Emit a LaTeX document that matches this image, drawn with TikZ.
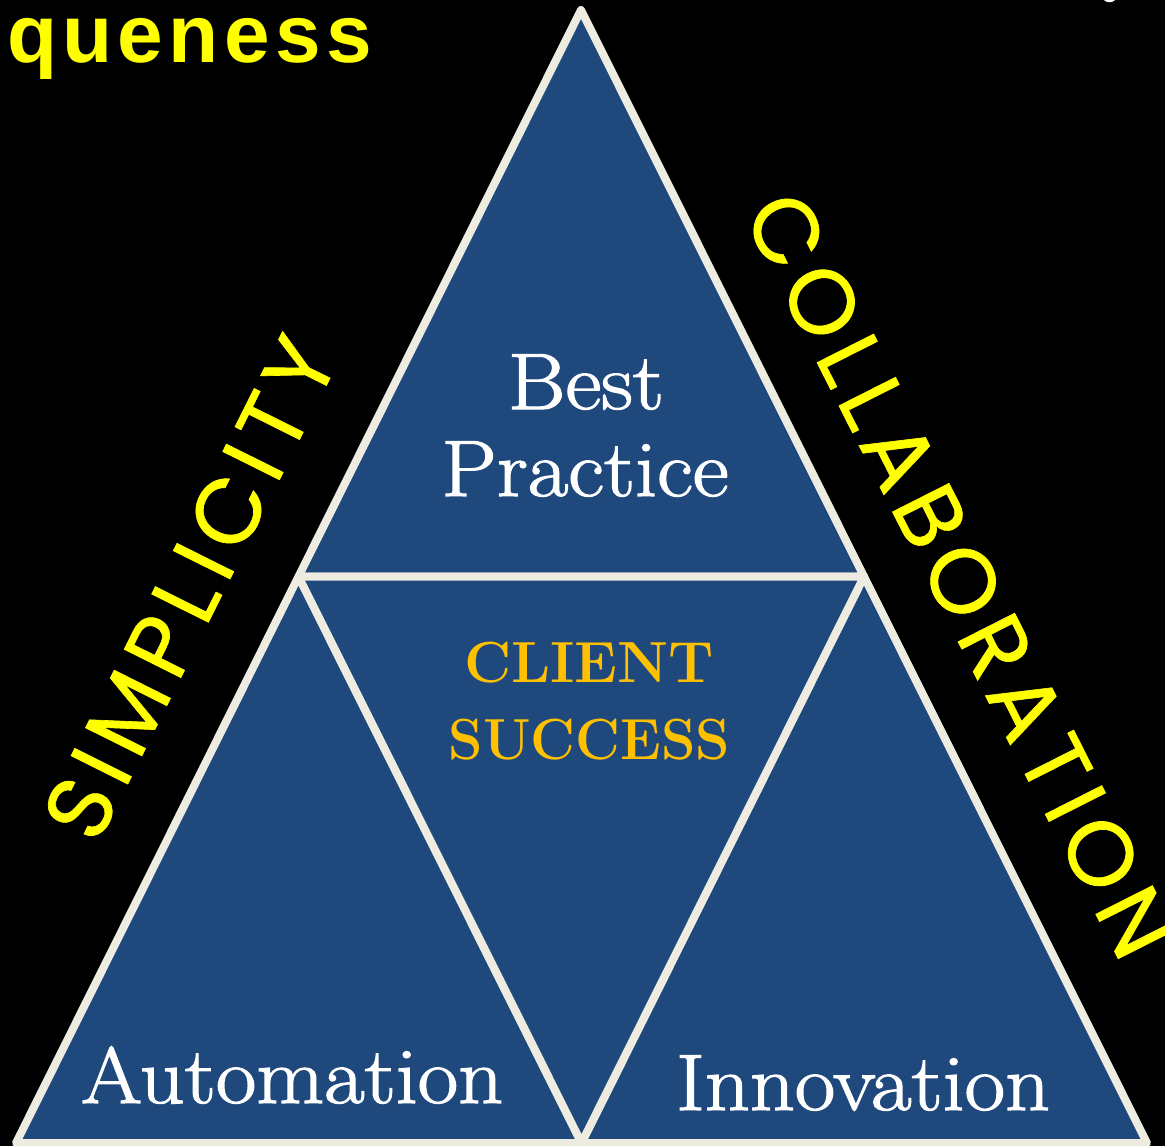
\documentclass[tikz,border=0pt]{standalone}
\usepackage{fontspec}
\newfontfamily\popfont[LetterSpace=10,FakeBold=0.7]{Poppins}
\newfontfamily\headfont[LetterSpace=6.5]{Liberation Sans}
\newfontfamily\serifb[FakeBold=1.5]{Latin Modern Roman}
\definecolor{triblue}{HTML}{1F497D}
\definecolor{cream}{HTML}{EEECE1}
\definecolor{gold}{HTML}{FFC000}
\definecolor{yel}{HTML}{FFFF00}
\begin{document}
\begin{tikzpicture}[x=1pt,y=-1pt,
  tri/.style={fill=triblue, draw=cream, line width=8pt, line join=round},
  lbl/.style={text=white, font=\fontsize{80}{88}\selectfont\serifb, anchor=base, inner sep=0pt, xscale=1.1},
  goldlbl/.style={text=gold, font=\fontsize{58}{64}\selectfont\bfseries, anchor=base, inner sep=0pt},
  sidelbl/.style={text=yel, font=\fontsize{91}{96}\selectfont\popfont, anchor=center, inner sep=0pt}]
\useasboundingbox (0,0) rectangle (1165,1146);
\fill[black] (0,0) rectangle (1165,1146);
% vertices
\coordinate (A) at (581,10);
\coordinate (BL) at (16,1143);
\coordinate (BR) at (1147,1143);
\coordinate (ML) at (298.5,576.5);
\coordinate (MR) at (864,576.5);
\coordinate (MB) at (581.5,1143);
% four triangles
\draw[tri] (A) -- (ML) -- (MR) -- cycle;
\draw[tri] (ML) -- (BL) -- (MB) -- cycle;
\draw[tri] (MR) -- (MB) -- (BR) -- cycle;
\draw[tri] (ML) -- (MR) -- (MB) -- cycle;
% labels
\node[lbl] (best1) at (586,409) {Best};
\node[lbl] (best2) at (585,496) {Practice};
\node[goldlbl] (client1) at (589,682) {CLIENT};
\node[goldlbl, xscale=0.95] (client2) at (589.5,759) {SUCCESS};
\node[lbl] (auto) at (292,1103) {Automation};
\node[lbl] (innov) at (863,1110) {Innovation};
% side words
\node[sidelbl, rotate=63.5] (simp) at (190,588) {SIMPLICITY};
\node[sidelbl, rotate=-63.2] (collab) at (960,575) {COLLABORATION};
% heading fragment
\node[text=yel, font=\fontsize{82}{88}\selectfont\headfont\bfseries, anchor=base west, inner sep=0pt] (head) at (7,62) {queness};
\draw[white, line width=2.5pt] (1109.5,-6) circle (7);
\end{tikzpicture}
\end{document}
